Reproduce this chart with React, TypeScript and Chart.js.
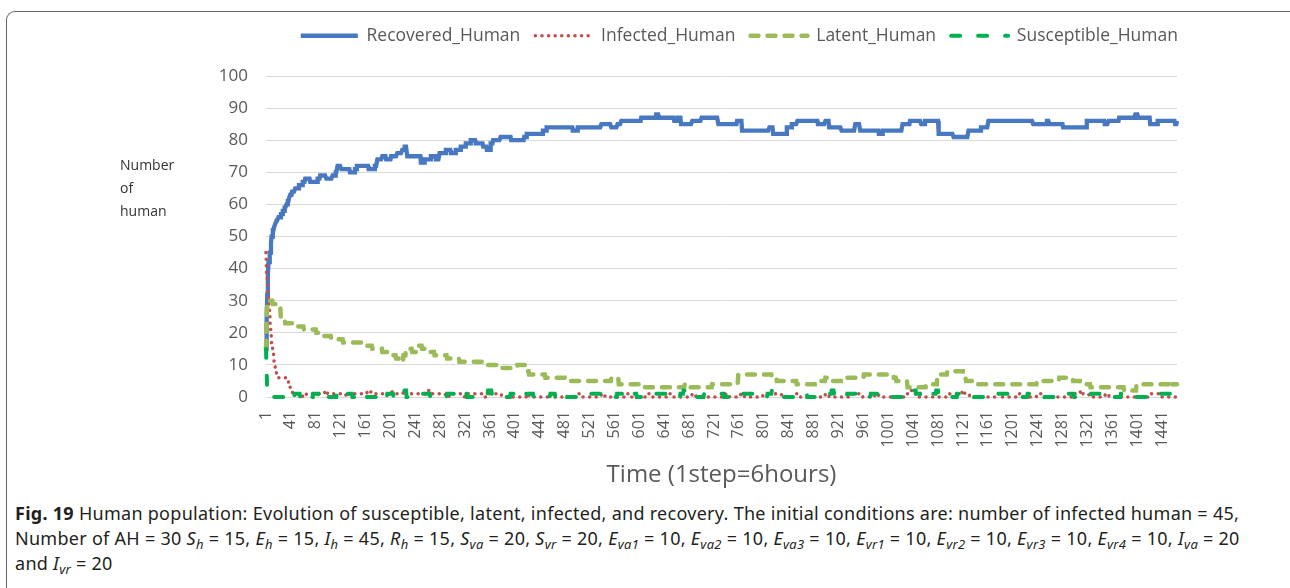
import React, { useEffect, useRef } from 'react';
import { Chart, registerables } from 'chart.js';

Chart.register(...registerables);

const N_STEPS = 1465;
const TICK_EVERY = 40;

// Step-hold breakpoints: [startStep, value] — value holds until the next breakpoint.
const recoveredBreaks: [number, number][] = [
  [1, 15], [2, 24], [3, 32], [4, 38], [5, 42], [7, 45], [9, 48], [10, 50], [12, 52], [14, 53], [16, 54], [18, 55],
  [21, 56], [25, 57], [28, 58], [31, 59], [34, 60], [36, 61], [38, 62], [40, 63], [43, 64], [48, 65], [54, 66],
  [60, 67], [64, 68], [72, 67], [84, 68], [88, 69], [98, 68], [108, 69], [113, 70], [116, 72], [122, 71], [136, 70],
  [144, 71], [147, 72], [166, 71], [176, 72], [180, 74], [188, 75], [194, 74], [202, 75], [212, 76], [220, 77],
  [224, 78], [228, 75], [250, 73], [256, 74], [266, 75], [274, 74], [280, 76], [290, 77], [298, 76], [306, 77],
  [314, 78], [322, 79], [330, 80], [338, 79], [350, 78], [356, 77], [362, 79], [366, 80], [378, 81], [395, 80],
  [416, 81], [420, 82], [446, 83], [452, 84], [494, 83], [502, 84], [540, 85], [556, 84], [566, 85], [572, 86],
  [604, 87], [628, 88], [632, 87], [657, 86], [663, 87], [668, 85], [686, 86], [701, 87], [728, 85], [758, 86],
  [766, 83], [810, 84], [816, 82], [838, 84], [846, 85], [855, 86], [888, 85], [900, 86], [906, 84], [926, 83],
  [948, 85], [956, 83], [986, 82], [992, 83], [1024, 85], [1036, 86], [1054, 85], [1060, 86], [1082, 82],
  [1106, 81], [1130, 83], [1150, 84], [1162, 86], [1234, 85], [1256, 86], [1259, 85], [1282, 84], [1320, 86],
  [1349, 85], [1355, 86], [1372, 87], [1398, 88], [1402, 87], [1422, 85], [1434, 86], [1462, 85], [1465, 86],
];

const infectedBreaks: [number, number][] = [
  [1, 45], [2, 38], [4, 32], [6, 27], [8, 21], [10, 17], [12, 14], [14, 11], [16, 9], [18, 7], [20, 6], [34, 5],
  [38, 3], [41, 2], [44, 1], [60, 0], [66, 1], [96, 2], [100, 1], [130, 0], [134, 1], [164, 2], [170, 1], [200, 2],
  [204, 1], [222, 2], [226, 1], [262, 2], [268, 1], [290, 0], [296, 1], [320, 0], [326, 1], [350, 0], [358, 1],
  [380, 0], [420, 1], [424, 0], [460, 1], [466, 0], [500, 1], [506, 0], [540, 1], [546, 0], [580, 1], [588, 0],
  [614, 1], [620, 0], [650, 1], [656, 0], [686, 1], [692, 0], [740, 1], [746, 0], [764, 1], [770, 0], [800, 1],
  [812, 2], [820, 1], [830, 0], [850, 1], [856, 0], [900, 1], [906, 0], [940, 1], [960, 0], [980, 1], [986, 0],
  [1030, 1], [1034, 2], [1040, 1], [1050, 0], [1100, 1], [1120, 2], [1124, 1], [1132, 0], [1176, 1], [1182, 0],
  [1208, 1], [1216, 0], [1240, 1], [1250, 0], [1300, 1], [1310, 2], [1314, 1], [1324, 0], [1350, 1], [1356, 0],
  [1420, 1], [1440, 0],
];

const latentBreaks: [number, number][] = [
  [1, 15], [2, 24], [3, 30], [12, 29], [20, 28], [25, 24], [32, 23], [48, 22], [62, 21], [82, 20], [88, 19],
  [106, 18], [125, 17], [156, 16], [172, 15], [188, 14], [204, 13], [210, 12], [215, 11], [222, 13], [226, 15],
  [236, 14], [244, 16], [252, 15], [260, 14], [272, 13], [292, 12], [312, 11], [352, 10], [372, 9], [405, 10],
  [418, 8], [424, 7], [450, 6], [482, 5], [556, 6], [568, 4], [606, 3], [674, 4], [680, 3], [718, 4], [760, 7],
  [814, 6], [822, 5], [854, 4], [884, 5], [900, 6], [906, 5], [926, 6], [962, 7], [1010, 6], [1014, 5], [1032, 3],
  [1062, 4], [1080, 7], [1096, 8], [1122, 6], [1126, 5], [1142, 4], [1240, 5], [1276, 6], [1298, 5], [1310, 4],
  [1326, 3], [1380, 2], [1400, 4], [1452, 3], [1458, 4],
];

const susceptibleBreaks: [number, number][] = [
  [1, 15], [2, 8], [3, 2], [4, 1], [8, 0], [37, 1], [44, 0], [47, 1], [56, 0], [59, 1], [66, 0], [77, 1], [86, 0],
  [89, 1], [99, 0], [115, 1], [126, 2], [130, 1], [140, 0], [144, 1], [152, 0], [184, 1], [192, 0], [196, 1],
  [206, 0], [222, 2], [227, 0], [249, 1], [265, 0], [292, 1], [304, 0], [308, 1], [324, 0], [351, 1], [358, 2],
  [364, 1], [372, 0], [394, 1], [400, 0], [414, 1], [431, 0], [458, 1], [466, 0], [474, 1], [485, 0], [522, 1],
  [544, 0], [565, 1], [576, 0], [586, 1], [597, 0], [624, 1], [651, 0], [667, 1], [672, 2], [678, 1], [683, 0],
  [705, 1], [737, 0], [753, 1], [785, 0], [807, 1], [814, 2], [818, 1], [823, 0], [849, 1], [871, 0], [903, 1],
  [910, 2], [914, 1], [919, 0], [935, 1], [962, 0], [973, 1], [1005, 0], [1032, 1], [1040, 2], [1046, 1],
  [1053, 0], [1069, 1], [1078, 2], [1082, 1], [1091, 0], [1112, 1], [1139, 0], [1166, 1], [1198, 0], [1225, 1],
  [1252, 0], [1273, 1], [1300, 0], [1327, 1], [1354, 0], [1375, 1], [1396, 0], [1429, 1], [1455, 0],
];

const seriesNames = ['Recovered_Human', 'Infected_Human', 'Latent_Human', 'Susceptible_Human'];
const yTitleLines = ['Number', 'of', 'human'];
const xTitle = 'Time (1step=6hours)';

function expand(breaks: [number, number][], n: number): number[] {
  const out: number[] = [];
  let k = 0;
  for (let s = 1; s <= n; s++) {
    while (k + 1 < breaks.length && breaks[k + 1][0] <= s) k++;
    out.push(breaks[k][1]);
  }
  return out;
}

const stepLabels: string[] = [];
for (let s = 1; s <= N_STEPS; s++) stepLabels.push(String(s));

const FONT = "'Open Sans', 'Noto Sans', sans-serif";

const legendSpacer = {
  id: 'legendSpacer',
  beforeInit(chart: any) {
    const legend = chart.legend;
    if (!legend) return;
    const orig = legend.fit;
    legend.fit = function () {
      orig.call(this);
      this.height += 21.5;
    };
  },
};

function ChartBox() {
  const ref = useRef<HTMLCanvasElement | null>(null);
  useEffect(() => {
    if (!ref.current) return;
    const chart = new Chart(ref.current, {
      type: 'line',
      data: {
        labels: stepLabels,
        datasets: [
          {
            label: seriesNames[0],
            data: expand(recoveredBreaks, N_STEPS),
            borderColor: '#4878C0',
            backgroundColor: '#4878C0',
            borderWidth: 4.3,
            pointRadius: 0,
            tension: 0,
            clip: false,
            order: 3,
          },
          {
            label: seriesNames[1],
            data: expand(infectedBreaks, N_STEPS),
            borderColor: '#C0504D',
            backgroundColor: '#C0504D',
            borderWidth: 3.5,
            borderDash: [0.1, 6.5],
            borderCapStyle: 'round',
            pointRadius: 0,
            tension: 0,
            clip: false,
            order: 2,
          },
          {
            label: seriesNames[2],
            data: expand(latentBreaks, N_STEPS),
            borderColor: '#9BBB59',
            backgroundColor: '#9BBB59',
            borderWidth: 4.5,
            borderDash: [8, 9],
            borderCapStyle: 'round',
            pointRadius: 0,
            tension: 0,
            clip: false,
            order: 1,
          },
          {
            label: seriesNames[3],
            data: expand(susceptibleBreaks, N_STEPS),
            borderColor: '#00B050',
            backgroundColor: '#00B050',
            borderWidth: 4,
            borderDash: [9, 18],
            borderCapStyle: 'round',
            pointRadius: 0,
            tension: 0,
            clip: false,
            order: 0,
          },
        ] as any,
      },
      options: {
        responsive: false,
        devicePixelRatio: 1,
        animation: false,
        layout: { padding: { left: 180, right: 97, top: 12, bottom: 0 } },
        plugins: {
          tooltip: { enabled: false },
          legend: {
            display: true,
            position: 'top',
            align: 'end',
            labels: {
              usePointStyle: true,
              pointStyle: 'line',
              pointStyleWidth: 57,
              padding: 15,
              color: '#595959',
              font: { family: FONT, size: 17.5 },
              sort: (a: any, b: any) => a.datasetIndex - b.datasetIndex,
              generateLabels: (c: any) => {
                const base = (Chart.defaults as any).plugins.legend.labels.generateLabels(c);
                return base.map((item: any) => {
                  const ds = c.data.datasets[item.datasetIndex];
                  return {
                    ...item,
                    pointStyle: 'line',
                    lineDash: ds.borderDash || [],
                    lineCap: ds.borderCapStyle || 'butt',
                    lineWidth: ds.borderWidth,
                    strokeStyle: ds.borderColor,
                    fillStyle: ds.borderColor,
                  };
                });
              },
            },
          },
        },
        scales: {
          x: {
            type: 'category',
            grid: { display: false, drawTicks: false },
            border: { display: true, color: '#d9d9d9' },
            ticks: {
              autoSkip: false,
              maxRotation: 90,
              minRotation: 90,
              padding: 14,
              color: '#595959',
              font: { family: FONT, size: 16 },
              callback: (_v: any, i: number) => (i % TICK_EVERY === 0 ? stepLabels[i] : ''),
            },
            title: {
              display: true,
              text: xTitle,
              color: '#595959',
              font: { family: FONT, size: 24 },
              padding: { top: 0, bottom: 0 },
            },
            afterFit: (s: any) => {
              s.height = 93;
            },
          },
          y: {
            type: 'linear',
            position: 'left',
            min: 0,
            max: 100,
            grid: { color: '#d9d9d9', lineWidth: 1, drawTicks: false },
            border: { display: false },
            ticks: {
              stepSize: 10,
              padding: 18,
              color: '#595959',
              font: { family: FONT, size: 17 },
            },
            afterFit: (s: any) => {
              s.width = 86;
            },
          },
          y2: {
            type: 'linear',
            position: 'right',
            display: true,
            grid: { display: false, drawTicks: false },
            border: { display: false },
            ticks: { display: false },
            afterFit: (s: any) => {
              s.width = 16;
            },
          },
        },
      } as any,
      plugins: [legendSpacer],
    });
    return () => chart.destroy();
  }, []);
  return <canvas ref={ref} width={1290} height={490} style={{ position: 'absolute', left: 0, top: 0 }} />;
}

const sub = (t: string) => (
  <sub style={{ fontSize: '0.72em', verticalAlign: '-0.3em', lineHeight: 0, fontStyle: 'italic' }}>{t}</sub>
);
const v = (base: string, s: string) => (
  <>
    <i>{base}</i>
    {sub(s)}
  </>
);

export default function App() {
  useEffect(() => {
    document.body.style.margin = '0';
  }, []);
  return (
    <div style={{ position: 'relative', width: 1290, height: 588, overflow: 'hidden', background: '#fff' }}>
      <div
        style={{
          position: 'absolute',
          left: 6,
          top: 11,
          width: 1290,
          height: 700,
          borderTop: '1.5px solid #666',
          borderLeft: '1.5px solid #666',
          borderTopLeftRadius: 9,
          boxSizing: 'border-box',
        }}
      />
      <ChartBox />
      <div
        style={{
          position: 'absolute',
          left: 120,
          top: 153,
          fontFamily: FONT,
          fontSize: 14,
          lineHeight: '23px',
          color: '#333',
        }}
      >
        {yTitleLines.map((l) => (
          <div key={l}>{l}</div>
        ))}
      </div>
      <div
        style={{
          position: 'absolute',
          left: 15,
          top: 501,
          fontFamily: "'Noto Sans', Roboto, sans-serif",
          fontSize: 18,
          letterSpacing: '0.28px',
          lineHeight: '25px',
          color: '#231f20',
          whiteSpace: 'nowrap',
        }}
      >
        <div>
          <b>Fig. 19</b> Human population: Evolution of susceptible, latent, infected, and recovery. The initial conditions
          are: number of infected human = 45,
        </div>
        <div>
          Number of AH = 30 {v('S', 'h')} = 15, {v('E', 'h')} = 15, {v('I', 'h')} = 45, {v('R', 'h')} = 15,{' '}
          {v('S', 'va')} = 20, {v('S', 'vr')} = 20, {v('E', 'va1')} = 10, {v('E', 'va2')} = 10, {v('E', 'va3')} = 10,{' '}
          {v('E', 'vr1')} = 10, {v('E', 'vr2')} = 10, {v('E', 'vr3')} = 10, {v('E', 'vr4')} = 10, {v('I', 'va')} = 20
        </div>
        <div>
          and {v('I', 'vr')} = 20
        </div>
      </div>
    </div>
  );
}
